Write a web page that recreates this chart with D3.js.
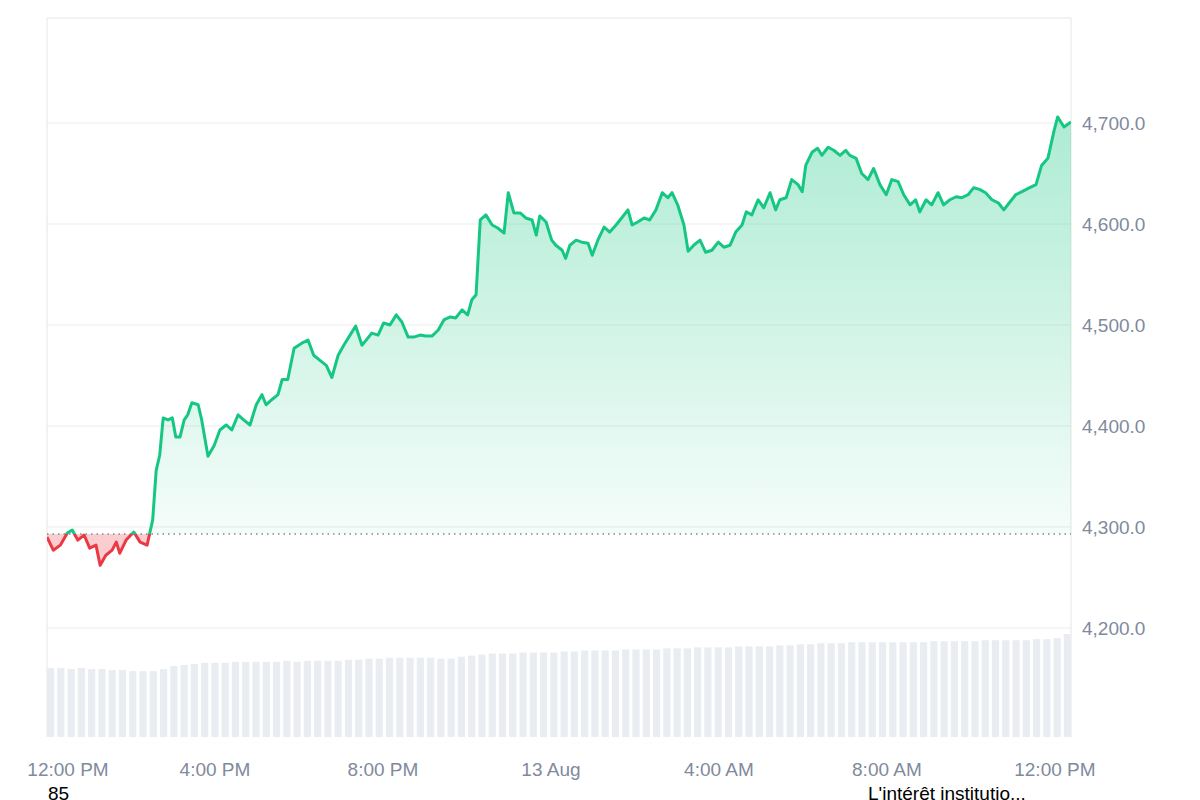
<!DOCTYPE html>
<html>
<head>
<meta charset="utf-8">
<script src="https://cdn.jsdelivr.net/npm/d3@7"></script>
<style>
body { margin: 0; background: #fff; font-family: "Liberation Sans", Arial, sans-serif; }
</style>
</head>
<body>
<svg id="chart" width="1200" height="800"></svg>
<script>
// minutes after 12:00 PM (12 Aug)
let minutes = [0,9,19,29,36,44,53,61,70,76,84,93,99,104,113,124,133,143,151,156,161,166,173,179,184,190,196,201,207,216,221,230,239,247,256,264,273,281,290,299,307,313,321,330,336,344,353,364,373,381,390,399,407,416,424,433,441,450,456,464,473,481,490,499,507,516,524,533,541,550,559,567,576,584,593,601,607,613,619,627,636,644,653,659,667,676,684,693,699,704,713,721,727,736,741,747,756,764,773,779,787,796,804,813,821,830,836,844,853,861,870,879,887,893,901,910,916,924,933,941,950,959,967,976,984,993,999,1007,1016,1024,1033,1041,1047,1056,1064,1073,1079,1084,1093,1101,1107,1116,1124,1133,1141,1147,1156,1164,1173,1181,1190,1199,1207,1216,1224,1233,1241,1247,1256,1264,1273,1281,1290,1299,1307,1316,1324,1333,1341,1350,1359,1367,1376,1384,1393,1404,1413,1421,1430,1439,1444,1453,1463]
let prices = [4290,4277,4282,4294,4297,4287,4292,4279,4282,4262,4272,4277,4285,4274,4287,4295,4285,4282,4307,4356,4371,4408,4406,4408,4389,4389,4406,4411,4423,4421,4406,4370,4381,4396,4401,4396,4411,4406,4401,4421,4431,4421,4426,4431,4446,4446,4477,4482,4485,4470,4465,4460,4448,4470,4480,4490,4499,4480,4485,4492,4490,4502,4500,4510,4503,4488,4488,4490,4489,4489,4495,4505,4508,4507,4515,4510,4525,4530,4604,4609,4599,4596,4591,4631,4611,4611,4606,4604,4589,4608,4602,4584,4579,4574,4566,4579,4584,4582,4581,4569,4584,4597,4592,4599,4606,4614,4599,4602,4606,4604,4614,4631,4626,4631,4619,4599,4573,4579,4584,4572,4574,4582,4577,4579,4592,4599,4612,4609,4624,4616,4631,4614,4624,4626,4644,4639,4632,4658,4671,4675,4668,4676,4673,4668,4673,4668,4665,4650,4644,4655,4639,4629,4644,4642,4629,4619,4624,4612,4624,4619,4631,4619,4624,4627,4626,4629,4636,4634,4631,4624,4621,4614,4622,4629,4632,4636,4639,4658,4665,4693,4706,4696,4701]
let volumes = [67,67,66,67,66,66,65,65,64,64,64,66,69,70,71,72,72,72,73,73,73,73,73,74,73,74,74,74,74,75,75,76,76,77,77,77,77,77,76,76,78,79,80,81,81,81,82,82,82,82,83,83,84,84,84,84,85,85,85,85,86,86,86,87,87,87,87,88,88,88,88,89,89,90,90,91,91,91,92,92,92,92,92,92,92,92,93,93,93,93,93,94,94,94,94,94,95,95,96,100]
let baseline = 4293
let yTicks = [4200,4300,4400,4500,4600,4700]
let xTickLabels = ["12:00 PM","4:00 PM","8:00 PM","13 Aug","4:00 AM","8:00 AM","12:00 PM"]
let footLeft = "85"
let footRight = "L'intérêt institutio..."

const svg = d3.select("#chart")
const pl = 47, pr = 1071, pt = 18, pb = 737
const start = new Date(2025, 7, 12, 12, 0)
const data = minutes.map((m, i) => ({ t: new Date(+start + m * 60000), p: prices[i] }))

const x = d3.scaleTime().domain([start, data[data.length-1].t]).range([pl, pr])
const y = d3.scaleLinear().domain([4092, 4804]).range([pb, pt])
const vy = d3.scaleLinear().domain([0, 100]).range([pb, 634])
const vx = d3.scaleBand().domain(d3.range(volumes.length)).range([pl, pr]).paddingInner(0.3)

// grid
svg.append("g").selectAll("line").data(yTicks).join("line")
  .attr("x1", pl).attr("x2", pr).attr("y1", d => y(d)).attr("y2", d => y(d))
  .attr("stroke", "#ececec")
svg.append("line").attr("x1", pl).attr("x2", pr).attr("y1", pt).attr("y2", pt).attr("stroke", "#e6e6e6")
svg.append("line").attr("x1", pl).attr("x2", pl).attr("y1", pt).attr("y2", pb).attr("stroke", "#e6e6e6")
svg.append("line").attr("x1", pr).attr("x2", pr).attr("y1", pt).attr("y2", pb).attr("stroke", "#e6e6e6")

// volume
svg.append("g").selectAll("rect").data(volumes).join("rect")
  .attr("x", (d, i) => vx(i)).attr("width", vx.bandwidth())
  .attr("y", d => vy(d)).attr("height", d => pb - vy(d))
  .attr("fill", "#e9edf2")

const defs = svg.append("defs")
const grad = defs.append("linearGradient").attr("id", "gg").attr("x1", 0).attr("x2", 0).attr("y1", 0).attr("y2", 1)
grad.append("stop").attr("offset", "0%").attr("stop-color", "#16c784").attr("stop-opacity", 0.35)
grad.append("stop").attr("offset", "100%").attr("stop-color", "#16c784").attr("stop-opacity", 0.02)
defs.append("clipPath").attr("id", "above").append("rect")
  .attr("x", pl).attr("y", pt).attr("width", pr - pl).attr("height", y(baseline) - pt)
defs.append("clipPath").attr("id", "below").append("rect")
  .attr("x", pl).attr("y", y(baseline)).attr("width", pr - pl).attr("height", pb - y(baseline))

const area = d3.area().x(d => x(d.t)).y0(y(baseline)).y1(d => y(d.p))
const line = d3.line().x(d => x(d.t)).y(d => y(d.p))

svg.append("path").datum(data).attr("d", area).attr("fill", "url(#gg)").attr("clip-path", "url(#above)")
svg.append("path").datum(data).attr("d", area).attr("fill", "#ea3943").attr("fill-opacity", 0.25).attr("clip-path", "url(#below)")

svg.append("line").attr("x1", pl).attr("x2", pr).attr("y1", y(baseline)).attr("y2", y(baseline))
  .attr("stroke", "#888").attr("stroke-dasharray", "1.5,4").attr("stroke-width", 1.5)

svg.append("path").datum(data).attr("d", line).attr("fill", "none").attr("stroke", "#16c784")
  .attr("stroke-width", 3).attr("stroke-linejoin", "round").attr("clip-path", "url(#above)")
svg.append("path").datum(data).attr("d", line).attr("fill", "none").attr("stroke", "#ea3943")
  .attr("stroke-width", 3).attr("stroke-linejoin", "round").attr("clip-path", "url(#below)")

// y axis
svg.append("g").selectAll("text").data(yTicks).join("text")
  .attr("x", 1082).attr("y", d => y(d)).attr("dy", "0.35em")
  .attr("fill", "#808a9d").attr("font-size", 19)
  .text(d => d3.format(",.1f")(d))

// x axis
const xTicks = d3.range(7).map(i => new Date(+start + i * 4 * 3600000))
svg.append("g").selectAll("text").data(xTicks).join("text")
  .attr("x", (d, i) => i === 0 ? x(d) + 21 : x(d))
  .attr("y", 776).attr("text-anchor", "middle")
  .attr("fill", "#808a9d").attr("font-size", 19)
  .text((d, i) => xTickLabels[i])

svg.append("text").attr("x", 48).attr("y", 800).attr("font-size", 19).attr("fill", "#000").text(footLeft)
svg.append("text").attr("x", 868).attr("y", 800).attr("font-size", 19).attr("fill", "#000").text(footRight)
</script>
</body>
</html>
